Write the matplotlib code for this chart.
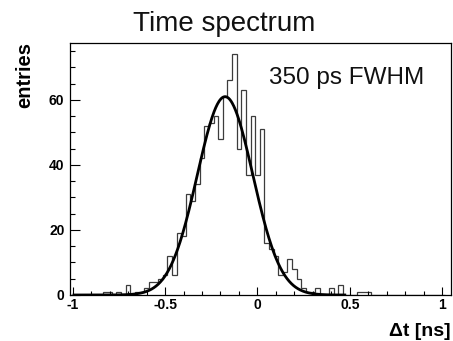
import numpy as np
import matplotlib
matplotlib.use("Agg")
import matplotlib.pyplot as plt

# histogram: 81 bins of 0.025 ns, centred on -1.0 ... 1.0
bin_low = -1.0125
bin_width = 0.025
counts = [
    0, 0, 0, 0, 0, 0, 0, 1, 1, 0,        # -1.000 .. -0.775
    1, 0, 3, 0, 1, 1, 2, 4, 4, 5,        # -0.750 .. -0.525
    6, 12, 6, 19, 18, 31, 29, 34, 42, 52,  # -0.500 .. -0.275
    53, 55, 48, 61, 66, 74, 45, 63, 37, 55,  # -0.250 .. -0.025
    37, 51, 16, 14, 12, 6, 7, 11, 8, 5,  # 0.000 .. 0.225
    2, 1, 1, 2, 0, 0, 2, 0, 3, 0,        # 0.250 .. 0.475
    0, 0, 1, 1, 1, 0, 0, 0, 0, 0,        # 0.500 .. 0.725
    0, 0, 0, 0, 0, 0, 0, 0, 0, 0,        # 0.750 .. 0.975
    0,                                   # 1.000
]

# gaussian fit (350 ps FWHM)
fit_amp = 61.0
fit_mean = -0.175
fit_sigma = 0.150
fit_range = (-1.0, 0.48)

x_ticks = [-1, -0.5, 0, 0.5, 1]
x_tick_labels = ["-1", "-0.5", "0", "0.5", "1"]
y_ticks = [0, 20, 40, 60]
y_tick_labels = ["0", "20", "40", "60"]

plt.rcParams["font.family"] = ["Liberation Sans", "DejaVu Sans"]

W, H = 453, 341
fig = plt.figure(figsize=(W / 100, H / 100), dpi=100)
fig.patch.set_facecolor("white")

# frame in pixels: left 70, right 451, top 43, bottom 295
ax = fig.add_axes([70 / W, 1 - 295 / H, 381 / W, 252 / H])

edges = bin_low + bin_width * np.arange(len(counts) + 1)
ax.stairs(counts, edges, color="#3c3c3c", linewidth=0.9, baseline=0)

xf = np.linspace(fit_range[0], fit_range[1], 500)
yf = fit_amp * np.exp(-0.5 * ((xf - fit_mean) / fit_sigma) ** 2)
ax.plot(xf, yf, color="black", linewidth=2.0, solid_capstyle="butt")

ax.set_xlim(-1.014, 1.047)
ax.set_ylim(0, 77.5)

ax.set_xticks(x_ticks)
ax.set_xticklabels(x_tick_labels, fontweight="bold", fontsize=10)
ax.set_xticks(np.arange(-1, 1.01, 0.1), minor=True)
ax.set_yticks(y_ticks)
ax.set_yticklabels(y_tick_labels, fontweight="bold", fontsize=10)
ax.set_yticks(np.arange(0, 76, 5), minor=True)

ax.tick_params(axis="both", which="both", direction="in", top=False, right=False,
               width=0.8, color="black")
ax.tick_params(axis="y", which="major", length=7, pad=4)
ax.tick_params(axis="y", which="minor", length=3.5)
ax.tick_params(axis="x", which="major", length=6, pad=2.5)
ax.tick_params(axis="x", which="minor", length=3)

for s in ax.spines.values():
    s.set_linewidth(0.9)
    s.set_color("black")

ax.text(0.522, 0.836, "350 ps FWHM", transform=ax.transAxes, fontsize=17.5,
        color="#111111", ha="left", va="baseline")

fig.text(224.5 / W, 1 - 31 / H, "Time spectrum", fontsize=20, color="#111111",
         ha="center", va="baseline")
fig.text(25 / W, 1 - 42 / H, "entries", fontsize=14.5, fontweight="bold",
         rotation=90, ha="center", va="top")
fig.text(451 / W, 1 - 336 / H, "\u0394t [ns]", fontsize=14, fontweight="bold",
         ha="right", va="baseline")

fig.savefig("out.png", dpi=100)
